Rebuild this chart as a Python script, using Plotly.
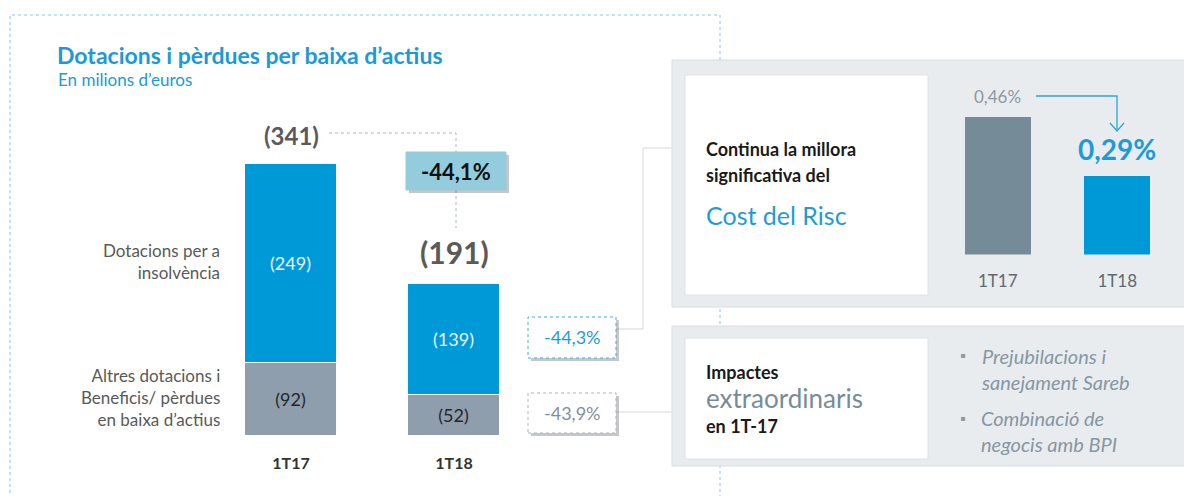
import plotly.graph_objects as go

# ---------------- data ----------------
categories = ["1T17", "1T18"]
insolvency = [249, 139]          # Dotacions per a insolvència
other = [92, 52]                 # Altres dotacions i beneficis/pèrdues
totals = [341, 191]
change_total = "-44,1%"
change_insolvency = "-44,3%"
change_other = "-43,9%"
risk_categories = ["1T17", "1T18"]
cost_of_risk = [0.46, 0.29]
cost_labels = ["0,46%", "0,29%"]
left_labels = ["Dotacions per a<br>insolvència",
               "Altres dotacions i<br>Beneficis/ pèrdues<br>en baixa d’actius"]
bullets = ["Prejubilacions i<br>sanejament Sareb", "Combinació de<br>negocis amb BPI"]

W, H = 1184, 496
FONT = "Lato"
BLUE = "#0099D8"
GRAY_BAR = "#8E9EAD"
RISK_GRAY = "#758C98"
TXT = "#595959"


def px(x):
    return x / W


def py(y):
    return 1 - y / H


fig = go.Figure()

fig.add_trace(go.Bar(
    x=categories, y=other, marker=dict(color=GRAY_BAR, line=dict(color="white", width=1)),
    width=0.565, text=[f"({v})" for v in other], textposition="inside",
    insidetextanchor="middle", textfont=dict(family=FONT, size=18, color="#262626"),
    hoverinfo="skip", xaxis="x", yaxis="y"))
fig.add_trace(go.Bar(
    x=categories, y=insolvency, marker=dict(color=BLUE, line=dict(color="white", width=1)),
    width=0.565, text=[f"({v})" for v in insolvency], textposition="inside",
    insidetextanchor="middle", textfont=dict(family=FONT, size=18, color="#E8F5FC"),
    hoverinfo="skip", xaxis="x", yaxis="y"))

fig.add_trace(go.Bar(
    x=risk_categories, y=cost_of_risk, marker=dict(color=[RISK_GRAY, BLUE], line=dict(width=0)),
    width=0.555, hoverinfo="skip", xaxis="x2", yaxis="y2"))

shapes = []
# left dotted frame
shapes.append(dict(type="rect", xref="paper", yref="paper", x0=px(10), x1=px(720), y0=py(520), y1=py(15),
                   line=dict(color="#7FCBEA", width=1, dash="dot"), fillcolor="rgba(0,0,0,0)", layer="below"))
# connectors
shapes.append(dict(type="path", xref="paper", yref="paper",
                   path=f"M{px(329)},{py(133)} L{px(456)},{py(133)} L{px(456)},{py(152)}",
                   line=dict(color="#A8B6C4", width=1, dash="dot"), layer="below"))
shapes.append(dict(type="line", xref="paper", yref="paper", x0=px(456), x1=px(456), y0=py(190), y1=py(228),
                   line=dict(color="#A8B6C4", width=1, dash="dot"), layer="below"))
shapes.append(dict(type="path", xref="paper", yref="paper",
                   path=f"M{px(616)},{py(329)} L{px(643)},{py(329)} L{px(643)},{py(148)} L{px(672)},{py(148)}",
                   line=dict(color="#D3D8DD", width=1), layer="below"))
shapes.append(dict(type="line", xref="paper", yref="paper", x0=px(616), x1=px(672), y0=py(412), y1=py(412),
                   line=dict(color="#D3D8DD", width=1), layer="below"))


def box(x0, y0, x1, y1, fill, line_color, dash="solid", shadow=False, lw=1):
    if shadow:
        shapes.append(dict(type="rect", xref="paper", yref="paper", x0=px(x0 + 3), x1=px(x1 + 3),
                           y0=py(y1 + 3), y1=py(y0 + 3), fillcolor="rgba(0,0,0,0.22)",
                           line=dict(width=0), layer="below"))
    shapes.append(dict(type="rect", xref="paper", yref="paper", x0=px(x0), x1=px(x1), y0=py(y1), y1=py(y0),
                       fillcolor=fill, line=dict(color=line_color, width=lw, dash=dash), layer="below"))


box(406, 152, 506, 190, "#93CDDD", "#93CDDD", shadow=True)
box(528, 317, 616, 358, "white", "#3BAEE3", dash="dot", shadow=True)
box(528, 393, 616, 433, "white", "#A9B5BF", dash="dot", shadow=True)
# right panels
box(672, 60, 1200, 307, "#E9ECEF", "#D8DDE2")
box(685, 75, 928, 295, "white", "#DDE1E5")
box(672, 326, 1200, 466, "#E9ECEF", "#D8DDE2")
box(685, 338, 928, 459, "white", "#DDE1E5")
# arrow
shapes.append(dict(type="path", xref="paper", yref="paper",
                   path=f"M{px(1036)},{py(96)} L{px(1117)},{py(96)} L{px(1117)},{py(130)}",
                   line=dict(color="#2AA6DD", width=1.3), layer="above"))
shapes.append(dict(type="path", xref="paper", yref="paper",
                   path=f"M{px(1110)},{py(123)} L{px(1117)},{py(131)} L{px(1124)},{py(123)}",
                   line=dict(color="#2AA6DD", width=1.3), layer="above"))

ann = []


def txt(x, y, text, size, color, bold=False, anchor="left", italic=False, align=None):
    ann.append(dict(xref="paper", yref="paper", x=px(x), y=py(y), text=text, showarrow=False,
                    xanchor=anchor, yanchor="middle", align=align or anchor,
                    font=dict(family=FONT, size=size, color=color,
                              weight="bold" if bold else "normal",
                              style="italic" if italic else "normal")))


txt(55, 55, "Dotacions i pèrdues per baixa d’actius", 23, "#1A9AD6", bold=True)
txt(56, 80, "En milions d’euros", 17, "#1A9AD6")
txt(222, 261, left_labels[0], 17, TXT, anchor="right")
txt(222, 397, left_labels[1], 17, TXT, anchor="right")
txt(456, 171, change_total, 22, "#111111", bold=True, anchor="center")
txt(572, 337, change_insolvency, 18, "#1E9BD7", anchor="center")
txt(572, 413, change_other, 18, "#7F8F9C", anchor="center")

# totals above bars (data coords)
for c, t, s, sh in zip(categories, totals, [24, 30], [12, 12]):
    ann.append(dict(xref="x", yref="y", x=c, y=t, text=f"({t})", showarrow=False, yanchor="bottom",
                    yshift=sh, font=dict(family=FONT, size=s, color="#5A5A5A", weight="bold")))
# cost of risk labels
for c, v, lab, s, col, b in zip(risk_categories, cost_of_risk, cost_labels, [17, 28], ["#8C99A3", "#1E9BD7"],
                                ["normal", "bold"]):
    ann.append(dict(xref="x2", yref="y2", x=c, y=v, text=lab, showarrow=False, yanchor="bottom",
                    yshift=8, font=dict(family=FONT, size=s, color=col, weight=b)))

txt(704, 149, "Continua la millora", 18, "#1A1A1A", bold=True)
txt(704, 175, "significativa del", 18, "#1A1A1A", bold=True)
txt(704, 215, "Cost del Risc", 25, "#1E9BD7")
txt(704, 372, "Impactes", 18, "#1A1A1A", bold=True)
txt(704, 398, "extraordinaris", 26, "#758D9B")
txt(704, 426, "en 1T-17", 18, "#1A1A1A", bold=True)
txt(958, 355, "▪", 15, "#8D9BA5")
txt(958, 418, "▪", 15, "#8D9BA5")
txt(979, 369, bullets[0], 20, "#8597A3", italic=True)
txt(979, 431, bullets[1], 20, "#8597A3", italic=True)

px_per_unit = 272 / 341
risk_base = 0.0638
risk_scale = 347.0

fig.update_layout(
    width=W, height=H, margin=dict(l=0, r=0, t=0, b=0),
    paper_bgcolor="white", plot_bgcolor="rgba(0,0,0,0)",
    barmode="stack", showlegend=False, bargap=0,
    shapes=shapes, annotations=ann,
    xaxis=dict(domain=[px(128), px(617)], range=[-1, 2], type="category", showgrid=False, zeroline=False,
               showline=False, ticks="", ticklabelstandoff=16,
               tickfont=dict(family=FONT, size=16, color="#333333", weight="bold"), fixedrange=True),
    yaxis=dict(domain=[py(436), py(100)], range=[0, 336 / px_per_unit], visible=False, fixedrange=True),
    xaxis2=dict(domain=[px(938), px(1177)], range=[-0.5, 1.5], type="category", anchor="y2",
                showgrid=False, zeroline=False, showline=False, ticks="", ticklabelstandoff=14,
                tickfont=dict(family=FONT, size=17, color="#5E6A72"), fixedrange=True),
    yaxis2=dict(domain=[py(254.5), py(100)], range=[risk_base, risk_base + 154.5 / risk_scale],
                anchor="x2", visible=False, fixedrange=True),
)

fig.write_html("out.html", config={"displayModeBar": False},
               post_script="document.body.style.margin='0';document.body.style.padding='0';")
